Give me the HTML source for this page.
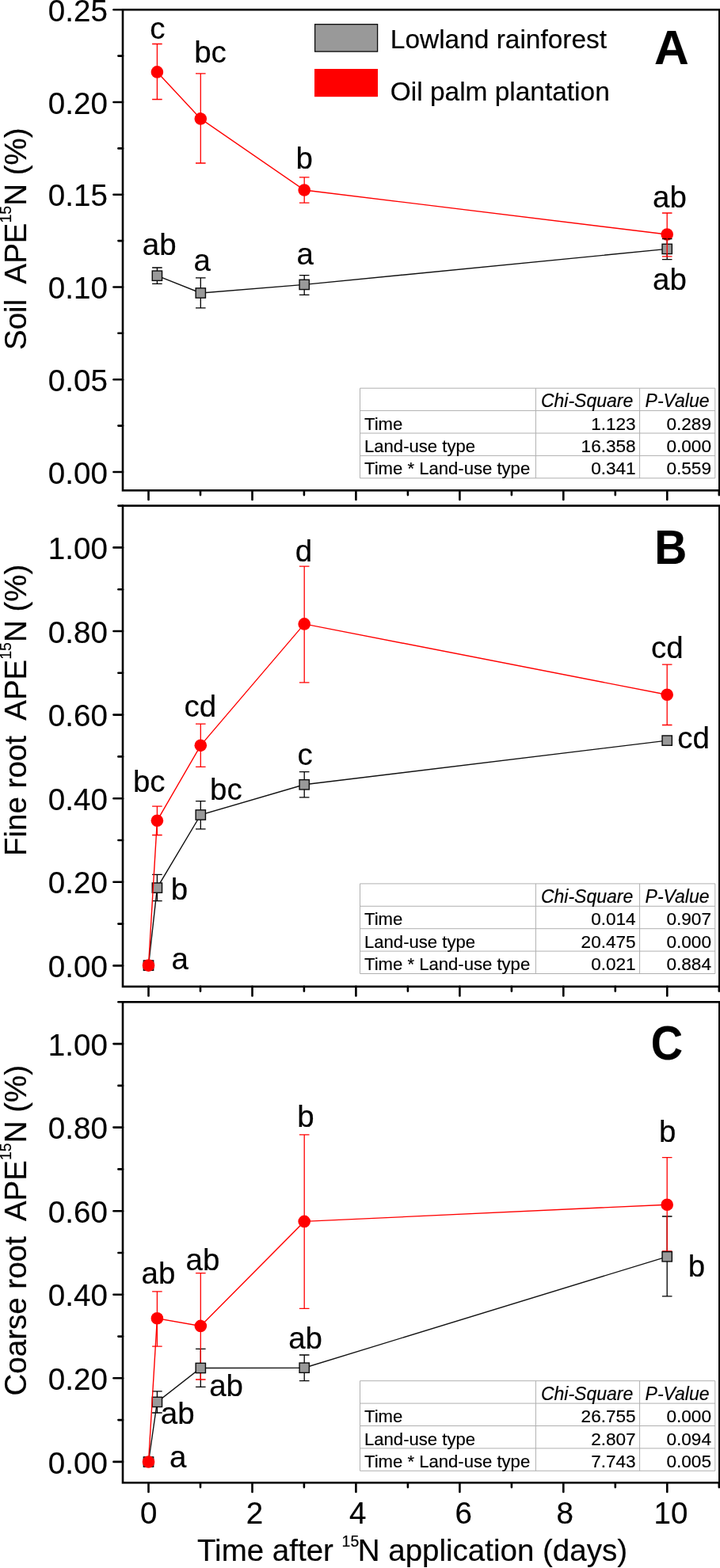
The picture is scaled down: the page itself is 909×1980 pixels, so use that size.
<!DOCTYPE html>
<html><head><meta charset="utf-8"><title>Figure</title>
<style>html,body{margin:0;padding:0;background:#fff}svg{display:block}text{font-family:"Liberation Sans",Arial,sans-serif;fill:#000;stroke:#000;stroke-width:0.18px}</style>
</head><body>
<svg width="909" height="1980" viewBox="0 0 909 1980">
<rect width="909" height="1980" fill="#fff"/>
<rect x="155.0" y="12.25" width="753.3" height="607.05" fill="none" stroke="#000" stroke-width="2.6" stroke-linecap="round"/>
<line x1="143.4" y1="596.0" x2="155.0" y2="596.0" stroke="#000" stroke-width="2.6" stroke-linecap="round"/>
<text x="135.8" y="610.6" text-anchor="end" font-size="38.5">0.00</text>
<line x1="143.4" y1="479.2" x2="155.0" y2="479.2" stroke="#000" stroke-width="2.6" stroke-linecap="round"/>
<text x="135.8" y="493.8" text-anchor="end" font-size="38.5">0.05</text>
<line x1="143.4" y1="362.5" x2="155.0" y2="362.5" stroke="#000" stroke-width="2.6" stroke-linecap="round"/>
<text x="135.8" y="377.1" text-anchor="end" font-size="38.5">0.10</text>
<line x1="143.4" y1="245.7" x2="155.0" y2="245.7" stroke="#000" stroke-width="2.6" stroke-linecap="round"/>
<text x="135.8" y="260.3" text-anchor="end" font-size="38.5">0.15</text>
<line x1="143.4" y1="129.0" x2="155.0" y2="129.0" stroke="#000" stroke-width="2.6" stroke-linecap="round"/>
<text x="135.8" y="143.6" text-anchor="end" font-size="38.5">0.20</text>
<line x1="143.4" y1="12.2" x2="155.0" y2="12.2" stroke="#000" stroke-width="2.6" stroke-linecap="round"/>
<text x="135.8" y="26.9" text-anchor="end" font-size="38.5">0.25</text>
<line x1="149.4" y1="537.6" x2="155.0" y2="537.6" stroke="#000" stroke-width="2.6" stroke-linecap="round"/>
<line x1="149.4" y1="420.8" x2="155.0" y2="420.8" stroke="#000" stroke-width="2.6" stroke-linecap="round"/>
<line x1="149.4" y1="304.1" x2="155.0" y2="304.1" stroke="#000" stroke-width="2.6" stroke-linecap="round"/>
<line x1="149.4" y1="187.4" x2="155.0" y2="187.4" stroke="#000" stroke-width="2.6" stroke-linecap="round"/>
<line x1="149.4" y1="70.6" x2="155.0" y2="70.6" stroke="#000" stroke-width="2.6" stroke-linecap="round"/>
<line x1="187.5" y1="619.3" x2="187.5" y2="630.9" stroke="#000" stroke-width="2.6" stroke-linecap="round"/>
<line x1="253.0" y1="619.3" x2="253.0" y2="625.0999999999999" stroke="#000" stroke-width="2.6" stroke-linecap="round"/>
<line x1="318.5" y1="619.3" x2="318.5" y2="630.9" stroke="#000" stroke-width="2.6" stroke-linecap="round"/>
<line x1="383.9" y1="619.3" x2="383.9" y2="625.0999999999999" stroke="#000" stroke-width="2.6" stroke-linecap="round"/>
<line x1="449.4" y1="619.3" x2="449.4" y2="630.9" stroke="#000" stroke-width="2.6" stroke-linecap="round"/>
<line x1="514.9" y1="619.3" x2="514.9" y2="625.0999999999999" stroke="#000" stroke-width="2.6" stroke-linecap="round"/>
<line x1="580.4" y1="619.3" x2="580.4" y2="630.9" stroke="#000" stroke-width="2.6" stroke-linecap="round"/>
<line x1="645.9" y1="619.3" x2="645.9" y2="625.0999999999999" stroke="#000" stroke-width="2.6" stroke-linecap="round"/>
<line x1="711.3" y1="619.3" x2="711.3" y2="630.9" stroke="#000" stroke-width="2.6" stroke-linecap="round"/>
<line x1="776.8" y1="619.3" x2="776.8" y2="625.0999999999999" stroke="#000" stroke-width="2.6" stroke-linecap="round"/>
<line x1="842.3" y1="619.3" x2="842.3" y2="630.9" stroke="#000" stroke-width="2.6" stroke-linecap="round"/>
<line x1="907.8" y1="619.3" x2="907.8" y2="625.0999999999999" stroke="#000" stroke-width="2.6" stroke-linecap="round"/>
<polyline points="198.4,90.9 253.3,149.9 384.2,240.0 842.2,296.0" fill="none" stroke="#ff0000" stroke-width="1.4"/>
<circle cx="198.4" cy="90.9" r="7.8" fill="#ff0000"/>
<circle cx="253.3" cy="149.9" r="7.8" fill="#ff0000"/>
<circle cx="384.2" cy="240.0" r="7.8" fill="#ff0000"/>
<circle cx="842.2" cy="296.0" r="7.8" fill="#ff0000"/>
<path d="M198.4 338.0V358.4M192.1 338.0h12.6M192.1 358.4h12.6" stroke="#000" stroke-width="1.3" fill="none"/>
<path d="M253.3 350.9V388.8M247.0 350.9h12.6M247.0 388.8h12.6" stroke="#000" stroke-width="1.3" fill="none"/>
<path d="M384.2 347.6V372.3M377.9 347.6h12.6M377.9 372.3h12.6" stroke="#000" stroke-width="1.3" fill="none"/>
<path d="M842.2 301.6V327.6M835.9 301.6h12.6M835.9 327.6h12.6" stroke="#000" stroke-width="1.3" fill="none"/>
<polyline points="198.4,348.2 253.3,370.0 384.2,359.4 842.2,314.4" fill="none" stroke="#111" stroke-width="1.4"/>
<rect x="192.25" y="342.05" width="12.3" height="12.3" fill="#999999" stroke="#0a0a0a" stroke-width="1.4"/>
<rect x="247.15" y="363.85" width="12.3" height="12.3" fill="#999999" stroke="#0a0a0a" stroke-width="1.4"/>
<rect x="378.05" y="353.25" width="12.3" height="12.3" fill="#999999" stroke="#0a0a0a" stroke-width="1.4"/>
<rect x="836.05" y="308.25" width="12.3" height="12.3" fill="#999999" stroke="#0a0a0a" stroke-width="1.4"/>
<path d="M198.4 55.5V125.5M192.1 55.5h12.6M192.1 125.5h12.6" stroke="#ff0000" stroke-width="1.3" fill="none"/>
<path d="M253.3 92.8V206.0M247.0 92.8h12.6M247.0 206.0h12.6" stroke="#ff0000" stroke-width="1.3" fill="none"/>
<path d="M384.2 223.9V256.2M377.9 223.9h12.6M377.9 256.2h12.6" stroke="#ff0000" stroke-width="1.3" fill="none"/>
<path d="M842.2 269.0V323.8M835.9 269.0h12.6M835.9 323.8h12.6" stroke="#ff0000" stroke-width="1.3" fill="none"/>
<text x="198.8" y="48.6" text-anchor="middle" font-size="38.5">c</text>
<text x="265.5" y="79.2" text-anchor="middle" font-size="38.5">bc</text>
<text x="384.2" y="213.4" text-anchor="middle" font-size="38.5">b</text>
<text x="845.5" y="261.6" text-anchor="middle" font-size="38.5">ab</text>
<text x="845.5" y="365.8" text-anchor="middle" font-size="38.5">ab</text>
<text x="201.2" y="321.7" text-anchor="middle" font-size="38.5">ab</text>
<text x="255.1" y="342.2" text-anchor="middle" font-size="38.5">a</text>
<text x="385.1" y="333.9" text-anchor="middle" font-size="38.5">a</text>
<rect x="397.6" y="30.7" width="79" height="34.4" fill="#999999" stroke="#0a0a0a" stroke-width="1.3"/>
<rect x="397" y="87" width="80" height="35.2" fill="#ff0000"/>
<text x="492.8" y="61" font-size="33.45">Lowland rainforest</text>
<text x="492.8" y="126.5" font-size="33.45">Oil palm plantation</text>
<text x="847.9" y="81" font-size="60.5" font-weight="bold" text-anchor="middle">A</text>
<line x1="454.5" y1="490.2" x2="902.8" y2="490.2" stroke="#b0b0b0" stroke-width="1"/>
<line x1="454.5" y1="518.6" x2="902.8" y2="518.6" stroke="#b0b0b0" stroke-width="1"/>
<line x1="454.5" y1="547.0" x2="902.8" y2="547.0" stroke="#b0b0b0" stroke-width="1"/>
<line x1="454.5" y1="575.4" x2="902.8" y2="575.4" stroke="#b0b0b0" stroke-width="1"/>
<line x1="454.5" y1="603.8" x2="902.8" y2="603.8" stroke="#b0b0b0" stroke-width="1"/>
<line x1="454.5" y1="490.2" x2="454.5" y2="603.8" stroke="#b0b0b0" stroke-width="1"/>
<line x1="676.4" y1="490.2" x2="676.4" y2="603.8" stroke="#b0b0b0" stroke-width="1"/>
<line x1="807.6" y1="490.2" x2="807.6" y2="603.8" stroke="#b0b0b0" stroke-width="1"/>
<line x1="902.8" y1="490.2" x2="902.8" y2="603.8" stroke="#b0b0b0" stroke-width="1"/>
<text x="682.9" y="514.4" font-size="23" font-style="italic">Chi-Square</text>
<text x="814.6" y="514.4" font-size="23" font-style="italic">P-Value</text>
<text x="460.0" y="542.6" font-size="22.1">Time</text>
<text x="802.7" y="542.6" font-size="22.6" text-anchor="end">1.123</text>
<text x="898.0" y="542.6" font-size="22.6" text-anchor="end">0.289</text>
<text x="460.0" y="571.0" font-size="22.1">Land-use type</text>
<text x="802.7" y="571.0" font-size="22.6" text-anchor="end">16.358</text>
<text x="898.0" y="571.0" font-size="22.6" text-anchor="end">0.000</text>
<text x="460.0" y="599.4" font-size="22.1">Time * Land-use type</text>
<text x="802.7" y="599.4" font-size="22.6" text-anchor="end">0.341</text>
<text x="898.0" y="599.4" font-size="22.6" text-anchor="end">0.559</text>
<text transform="translate(33,442) rotate(-90)" font-size="38.5">Soil&#160; APE<tspan font-size="19.5" dy="-19">15</tspan><tspan dy="19">N (%)</tspan></text>
<rect x="155.0" y="638.6" width="753.3" height="607.1999999999999" fill="none" stroke="#000" stroke-width="2.6" stroke-linecap="round"/>
<line x1="143.4" y1="1219.4" x2="155.0" y2="1219.4" stroke="#000" stroke-width="2.6" stroke-linecap="round"/>
<text x="135.8" y="1234.0" text-anchor="end" font-size="38.5">0.00</text>
<line x1="143.4" y1="1113.8" x2="155.0" y2="1113.8" stroke="#000" stroke-width="2.6" stroke-linecap="round"/>
<text x="135.8" y="1128.4" text-anchor="end" font-size="38.5">0.20</text>
<line x1="143.4" y1="1008.2" x2="155.0" y2="1008.2" stroke="#000" stroke-width="2.6" stroke-linecap="round"/>
<text x="135.8" y="1022.8" text-anchor="end" font-size="38.5">0.40</text>
<line x1="143.4" y1="902.6" x2="155.0" y2="902.6" stroke="#000" stroke-width="2.6" stroke-linecap="round"/>
<text x="135.8" y="917.2" text-anchor="end" font-size="38.5">0.60</text>
<line x1="143.4" y1="797.0" x2="155.0" y2="797.0" stroke="#000" stroke-width="2.6" stroke-linecap="round"/>
<text x="135.8" y="811.6" text-anchor="end" font-size="38.5">0.80</text>
<line x1="143.4" y1="691.4" x2="155.0" y2="691.4" stroke="#000" stroke-width="2.6" stroke-linecap="round"/>
<text x="135.8" y="706.0" text-anchor="end" font-size="38.5">1.00</text>
<line x1="149.4" y1="1166.6" x2="155.0" y2="1166.6" stroke="#000" stroke-width="2.6" stroke-linecap="round"/>
<line x1="149.4" y1="1061.0" x2="155.0" y2="1061.0" stroke="#000" stroke-width="2.6" stroke-linecap="round"/>
<line x1="149.4" y1="955.4" x2="155.0" y2="955.4" stroke="#000" stroke-width="2.6" stroke-linecap="round"/>
<line x1="149.4" y1="849.8" x2="155.0" y2="849.8" stroke="#000" stroke-width="2.6" stroke-linecap="round"/>
<line x1="149.4" y1="744.2" x2="155.0" y2="744.2" stroke="#000" stroke-width="2.6" stroke-linecap="round"/>
<line x1="149.4" y1="638.6" x2="155.0" y2="638.6" stroke="#000" stroke-width="2.6" stroke-linecap="round"/>
<line x1="187.5" y1="1245.8" x2="187.5" y2="1257.3999999999999" stroke="#000" stroke-width="2.6" stroke-linecap="round"/>
<line x1="253.0" y1="1245.8" x2="253.0" y2="1251.6" stroke="#000" stroke-width="2.6" stroke-linecap="round"/>
<line x1="318.5" y1="1245.8" x2="318.5" y2="1257.3999999999999" stroke="#000" stroke-width="2.6" stroke-linecap="round"/>
<line x1="383.9" y1="1245.8" x2="383.9" y2="1251.6" stroke="#000" stroke-width="2.6" stroke-linecap="round"/>
<line x1="449.4" y1="1245.8" x2="449.4" y2="1257.3999999999999" stroke="#000" stroke-width="2.6" stroke-linecap="round"/>
<line x1="514.9" y1="1245.8" x2="514.9" y2="1251.6" stroke="#000" stroke-width="2.6" stroke-linecap="round"/>
<line x1="580.4" y1="1245.8" x2="580.4" y2="1257.3999999999999" stroke="#000" stroke-width="2.6" stroke-linecap="round"/>
<line x1="645.9" y1="1245.8" x2="645.9" y2="1251.6" stroke="#000" stroke-width="2.6" stroke-linecap="round"/>
<line x1="711.3" y1="1245.8" x2="711.3" y2="1257.3999999999999" stroke="#000" stroke-width="2.6" stroke-linecap="round"/>
<line x1="776.8" y1="1245.8" x2="776.8" y2="1251.6" stroke="#000" stroke-width="2.6" stroke-linecap="round"/>
<line x1="842.3" y1="1245.8" x2="842.3" y2="1257.3999999999999" stroke="#000" stroke-width="2.6" stroke-linecap="round"/>
<line x1="907.8" y1="1245.8" x2="907.8" y2="1251.6" stroke="#000" stroke-width="2.6" stroke-linecap="round"/>
<path d="M198.4 1104.3V1137.6M192.1 1104.3h12.6M192.1 1137.6h12.6" stroke="#000" stroke-width="1.3" fill="none"/>
<path d="M253.3 1011.6V1046.9M247.0 1011.6h12.6M247.0 1046.9h12.6" stroke="#000" stroke-width="1.3" fill="none"/>
<path d="M384.2 974.6V1006.9M377.9 974.6h12.6M377.9 1006.9h12.6" stroke="#000" stroke-width="1.3" fill="none"/>
<path d="M198.4 1018.2V1054.5M192.1 1018.2h12.6M192.1 1054.5h12.6" stroke="#ff0000" stroke-width="1.3" fill="none"/>
<path d="M253.3 914.2V968.3M247.0 914.2h12.6M247.0 968.3h12.6" stroke="#ff0000" stroke-width="1.3" fill="none"/>
<path d="M384.2 715.2V861.8M377.9 715.2h12.6M377.9 861.8h12.6" stroke="#ff0000" stroke-width="1.3" fill="none"/>
<path d="M842.2 839.1V915.5M835.9 839.1h12.6M835.9 915.5h12.6" stroke="#ff0000" stroke-width="1.3" fill="none"/>
<polyline points="187.5,1219.1 198.4,1121.1 253.3,1029.0 384.2,990.8 842.2,935.1" fill="none" stroke="#111" stroke-width="1.4"/>
<rect x="181.35" y="1212.95" width="12.3" height="12.3" fill="#999999" stroke="#0a0a0a" stroke-width="1.4"/>
<rect x="192.25" y="1114.95" width="12.3" height="12.3" fill="#999999" stroke="#0a0a0a" stroke-width="1.4"/>
<rect x="247.15" y="1022.85" width="12.3" height="12.3" fill="#999999" stroke="#0a0a0a" stroke-width="1.4"/>
<rect x="378.05" y="984.65" width="12.3" height="12.3" fill="#999999" stroke="#0a0a0a" stroke-width="1.4"/>
<rect x="836.05" y="928.95" width="12.3" height="12.3" fill="#999999" stroke="#0a0a0a" stroke-width="1.4"/>
<polyline points="187.5,1219.1 198.4,1036.3 253.3,941.3 384.2,787.9 842.2,877.3" fill="none" stroke="#ff0000" stroke-width="1.4"/>
<circle cx="187.5" cy="1219.1" r="7.8" fill="#ff0000"/>
<circle cx="198.4" cy="1036.3" r="7.8" fill="#ff0000"/>
<circle cx="253.3" cy="941.3" r="7.8" fill="#ff0000"/>
<circle cx="384.2" cy="787.9" r="7.8" fill="#ff0000"/>
<circle cx="842.2" cy="877.3" r="7.8" fill="#ff0000"/>
<text x="383.5" y="708.9" text-anchor="middle" font-size="38.5">d</text>
<text x="252.8" y="905.2" text-anchor="middle" font-size="38.5">cd</text>
<text x="188.3" y="999.5" text-anchor="middle" font-size="38.5">bc</text>
<text x="285.4" y="1009.5" text-anchor="middle" font-size="38.5">bc</text>
<text x="385.1" y="965.6" text-anchor="middle" font-size="38.5">c</text>
<text x="226.4" y="1136.2" text-anchor="middle" font-size="38.5">b</text>
<text x="227.1" y="1224.0" text-anchor="middle" font-size="38.5">a</text>
<text x="842.3" y="831.2" text-anchor="middle" font-size="38.5">cd</text>
<text x="875.5" y="944.8" text-anchor="middle" font-size="38.5">cd</text>
<text x="846.7" y="711.5" font-size="60.5" font-weight="bold" text-anchor="middle" textLength="41" lengthAdjust="spacingAndGlyphs">B</text>
<line x1="454.5" y1="1115.9" x2="902.8" y2="1115.9" stroke="#b0b0b0" stroke-width="1"/>
<line x1="454.5" y1="1144.3" x2="902.8" y2="1144.3" stroke="#b0b0b0" stroke-width="1"/>
<line x1="454.5" y1="1172.7" x2="902.8" y2="1172.7" stroke="#b0b0b0" stroke-width="1"/>
<line x1="454.5" y1="1201.1" x2="902.8" y2="1201.1" stroke="#b0b0b0" stroke-width="1"/>
<line x1="454.5" y1="1229.5" x2="902.8" y2="1229.5" stroke="#b0b0b0" stroke-width="1"/>
<line x1="454.5" y1="1115.9" x2="454.5" y2="1229.5" stroke="#b0b0b0" stroke-width="1"/>
<line x1="676.4" y1="1115.9" x2="676.4" y2="1229.5" stroke="#b0b0b0" stroke-width="1"/>
<line x1="807.6" y1="1115.9" x2="807.6" y2="1229.5" stroke="#b0b0b0" stroke-width="1"/>
<line x1="902.8" y1="1115.9" x2="902.8" y2="1229.5" stroke="#b0b0b0" stroke-width="1"/>
<text x="682.9" y="1140.1" font-size="23" font-style="italic">Chi-Square</text>
<text x="814.6" y="1140.1" font-size="23" font-style="italic">P-Value</text>
<text x="460.0" y="1168.3" font-size="22.1">Time</text>
<text x="802.7" y="1168.3" font-size="22.6" text-anchor="end">0.014</text>
<text x="898.0" y="1168.3" font-size="22.6" text-anchor="end">0.907</text>
<text x="460.0" y="1196.7" font-size="22.1">Land-use type</text>
<text x="802.7" y="1196.7" font-size="22.6" text-anchor="end">20.475</text>
<text x="898.0" y="1196.7" font-size="22.6" text-anchor="end">0.000</text>
<text x="460.0" y="1225.1" font-size="22.1">Time * Land-use type</text>
<text x="802.7" y="1225.1" font-size="22.6" text-anchor="end">0.021</text>
<text x="898.0" y="1225.1" font-size="22.6" text-anchor="end">0.884</text>
<text transform="translate(33,1081) rotate(-90)" font-size="38.5">Fine root&#160; APE<tspan font-size="19.5" dy="-19">15</tspan><tspan dy="19">N (%)</tspan></text>
<rect x="155.0" y="1265.3" width="753.3" height="607.0" fill="none" stroke="#000" stroke-width="2.6" stroke-linecap="round"/>
<line x1="143.4" y1="1845.9" x2="155.0" y2="1845.9" stroke="#000" stroke-width="2.6" stroke-linecap="round"/>
<text x="135.8" y="1860.5" text-anchor="end" font-size="38.5">0.00</text>
<line x1="143.4" y1="1740.3" x2="155.0" y2="1740.3" stroke="#000" stroke-width="2.6" stroke-linecap="round"/>
<text x="135.8" y="1754.9" text-anchor="end" font-size="38.5">0.20</text>
<line x1="143.4" y1="1634.8" x2="155.0" y2="1634.8" stroke="#000" stroke-width="2.6" stroke-linecap="round"/>
<text x="135.8" y="1649.4" text-anchor="end" font-size="38.5">0.40</text>
<line x1="143.4" y1="1529.2" x2="155.0" y2="1529.2" stroke="#000" stroke-width="2.6" stroke-linecap="round"/>
<text x="135.8" y="1543.8" text-anchor="end" font-size="38.5">0.60</text>
<line x1="143.4" y1="1423.6" x2="155.0" y2="1423.6" stroke="#000" stroke-width="2.6" stroke-linecap="round"/>
<text x="135.8" y="1438.2" text-anchor="end" font-size="38.5">0.80</text>
<line x1="143.4" y1="1318.1" x2="155.0" y2="1318.1" stroke="#000" stroke-width="2.6" stroke-linecap="round"/>
<text x="135.8" y="1332.7" text-anchor="end" font-size="38.5">1.00</text>
<line x1="149.4" y1="1793.1" x2="155.0" y2="1793.1" stroke="#000" stroke-width="2.6" stroke-linecap="round"/>
<line x1="149.4" y1="1687.6" x2="155.0" y2="1687.6" stroke="#000" stroke-width="2.6" stroke-linecap="round"/>
<line x1="149.4" y1="1582.0" x2="155.0" y2="1582.0" stroke="#000" stroke-width="2.6" stroke-linecap="round"/>
<line x1="149.4" y1="1476.4" x2="155.0" y2="1476.4" stroke="#000" stroke-width="2.6" stroke-linecap="round"/>
<line x1="149.4" y1="1370.9" x2="155.0" y2="1370.9" stroke="#000" stroke-width="2.6" stroke-linecap="round"/>
<line x1="149.4" y1="1265.3" x2="155.0" y2="1265.3" stroke="#000" stroke-width="2.6" stroke-linecap="round"/>
<line x1="187.5" y1="1872.3" x2="187.5" y2="1883.8999999999999" stroke="#000" stroke-width="2.6" stroke-linecap="round"/>
<text x="187.8" y="1923.5" text-anchor="middle" font-size="38.5">0</text>
<line x1="253.0" y1="1872.3" x2="253.0" y2="1878.1" stroke="#000" stroke-width="2.6" stroke-linecap="round"/>
<line x1="318.5" y1="1872.3" x2="318.5" y2="1883.8999999999999" stroke="#000" stroke-width="2.6" stroke-linecap="round"/>
<text x="321.4" y="1923.5" text-anchor="middle" font-size="38.5">2</text>
<line x1="383.9" y1="1872.3" x2="383.9" y2="1878.1" stroke="#000" stroke-width="2.6" stroke-linecap="round"/>
<line x1="449.4" y1="1872.3" x2="449.4" y2="1883.8999999999999" stroke="#000" stroke-width="2.6" stroke-linecap="round"/>
<text x="451.8" y="1923.5" text-anchor="middle" font-size="38.5">4</text>
<line x1="514.9" y1="1872.3" x2="514.9" y2="1878.1" stroke="#000" stroke-width="2.6" stroke-linecap="round"/>
<line x1="580.4" y1="1872.3" x2="580.4" y2="1883.8999999999999" stroke="#000" stroke-width="2.6" stroke-linecap="round"/>
<text x="585.2" y="1923.5" text-anchor="middle" font-size="38.5">6</text>
<line x1="645.9" y1="1872.3" x2="645.9" y2="1878.1" stroke="#000" stroke-width="2.6" stroke-linecap="round"/>
<line x1="711.3" y1="1872.3" x2="711.3" y2="1883.8999999999999" stroke="#000" stroke-width="2.6" stroke-linecap="round"/>
<text x="713.1" y="1923.5" text-anchor="middle" font-size="38.5">8</text>
<line x1="776.8" y1="1872.3" x2="776.8" y2="1878.1" stroke="#000" stroke-width="2.6" stroke-linecap="round"/>
<line x1="842.3" y1="1872.3" x2="842.3" y2="1883.8999999999999" stroke="#000" stroke-width="2.6" stroke-linecap="round"/>
<text x="847.0" y="1923.5" text-anchor="middle" font-size="38.5">10</text>
<line x1="907.8" y1="1872.3" x2="907.8" y2="1878.1" stroke="#000" stroke-width="2.6" stroke-linecap="round"/>
<path d="M198.4 1756.9V1784.0M192.1 1756.9h12.6M192.1 1784.0h12.6" stroke="#000" stroke-width="1.3" fill="none"/>
<path d="M253.3 1703.4V1751.3M247.0 1703.4h12.6M247.0 1751.3h12.6" stroke="#000" stroke-width="1.3" fill="none"/>
<path d="M384.2 1711.0V1743.7M377.9 1711.0h12.6M377.9 1743.7h12.6" stroke="#000" stroke-width="1.3" fill="none"/>
<path d="M842.2 1536.0V1636.9M835.9 1536.0h12.6M835.9 1636.9h12.6" stroke="#000" stroke-width="1.3" fill="none"/>
<path d="M198.4 1630.8V1700.1M192.1 1630.8h12.6M192.1 1700.1h12.6" stroke="#ff0000" stroke-width="1.3" fill="none"/>
<path d="M253.3 1607.7V1742.0M247.0 1607.7h12.6M247.0 1742.0h12.6" stroke="#ff0000" stroke-width="1.3" fill="none"/>
<path d="M384.2 1432.8V1652.3M377.9 1432.8h12.6M377.9 1652.3h12.6" stroke="#ff0000" stroke-width="1.3" fill="none"/>
<path d="M842.2 1461.7V1580.0M835.9 1461.7h12.6M835.9 1580.0h12.6" stroke="#ff0000" stroke-width="1.3" fill="none"/>
<polyline points="187.5,1846.0 198.4,1770.4 253.3,1727.5 384.2,1727.2 842.2,1586.8" fill="none" stroke="#111" stroke-width="1.4"/>
<rect x="181.35" y="1839.85" width="12.3" height="12.3" fill="#999999" stroke="#0a0a0a" stroke-width="1.4"/>
<rect x="192.25" y="1764.25" width="12.3" height="12.3" fill="#999999" stroke="#0a0a0a" stroke-width="1.4"/>
<rect x="247.15" y="1721.35" width="12.3" height="12.3" fill="#999999" stroke="#0a0a0a" stroke-width="1.4"/>
<rect x="378.05" y="1721.05" width="12.3" height="12.3" fill="#999999" stroke="#0a0a0a" stroke-width="1.4"/>
<rect x="836.05" y="1580.65" width="12.3" height="12.3" fill="#999999" stroke="#0a0a0a" stroke-width="1.4"/>
<polyline points="187.5,1846.0 198.4,1664.8 253.3,1674.4 384.2,1542.4 842.2,1521.2" fill="none" stroke="#ff0000" stroke-width="1.4"/>
<circle cx="187.5" cy="1846.0" r="7.8" fill="#ff0000"/>
<circle cx="198.4" cy="1664.8" r="7.8" fill="#ff0000"/>
<circle cx="253.3" cy="1674.4" r="7.8" fill="#ff0000"/>
<circle cx="384.2" cy="1542.4" r="7.8" fill="#ff0000"/>
<circle cx="842.2" cy="1521.2" r="7.8" fill="#ff0000"/>
<text x="385.9" y="1422.5" text-anchor="middle" font-size="38.5">b</text>
<text x="200.0" y="1621.2" text-anchor="middle" font-size="38.5">ab</text>
<text x="255.9" y="1604.0" text-anchor="middle" font-size="38.5">ab</text>
<text x="385.6" y="1703.0" text-anchor="middle" font-size="38.5">ab</text>
<text x="285.6" y="1763.0" text-anchor="middle" font-size="38.5">ab</text>
<text x="224.2" y="1798.0" text-anchor="middle" font-size="38.5">ab</text>
<text x="224.8" y="1853.2" text-anchor="middle" font-size="38.5">a</text>
<text x="842.6" y="1441.6" text-anchor="middle" font-size="38.5">b</text>
<text x="879.5" y="1612.1" text-anchor="middle" font-size="38.5">b</text>
<text x="842" y="1338" font-size="60.5" font-weight="bold" text-anchor="middle" textLength="40.3" lengthAdjust="spacingAndGlyphs">C</text>
<line x1="454.5" y1="1743.7" x2="902.8" y2="1743.7" stroke="#b0b0b0" stroke-width="1"/>
<line x1="454.5" y1="1772.1" x2="902.8" y2="1772.1" stroke="#b0b0b0" stroke-width="1"/>
<line x1="454.5" y1="1800.5" x2="902.8" y2="1800.5" stroke="#b0b0b0" stroke-width="1"/>
<line x1="454.5" y1="1828.9" x2="902.8" y2="1828.9" stroke="#b0b0b0" stroke-width="1"/>
<line x1="454.5" y1="1857.3" x2="902.8" y2="1857.3" stroke="#b0b0b0" stroke-width="1"/>
<line x1="454.5" y1="1743.7" x2="454.5" y2="1857.3" stroke="#b0b0b0" stroke-width="1"/>
<line x1="676.4" y1="1743.7" x2="676.4" y2="1857.3" stroke="#b0b0b0" stroke-width="1"/>
<line x1="807.6" y1="1743.7" x2="807.6" y2="1857.3" stroke="#b0b0b0" stroke-width="1"/>
<line x1="902.8" y1="1743.7" x2="902.8" y2="1857.3" stroke="#b0b0b0" stroke-width="1"/>
<text x="682.9" y="1767.9" font-size="23" font-style="italic">Chi-Square</text>
<text x="814.6" y="1767.9" font-size="23" font-style="italic">P-Value</text>
<text x="460.0" y="1796.1" font-size="22.1">Time</text>
<text x="802.7" y="1796.1" font-size="22.6" text-anchor="end">26.755</text>
<text x="898.0" y="1796.1" font-size="22.6" text-anchor="end">0.000</text>
<text x="460.0" y="1824.5" font-size="22.1">Land-use type</text>
<text x="802.7" y="1824.5" font-size="22.6" text-anchor="end">2.807</text>
<text x="898.0" y="1824.5" font-size="22.6" text-anchor="end">0.094</text>
<text x="460.0" y="1852.9" font-size="22.1">Time * Land-use type</text>
<text x="802.7" y="1852.9" font-size="22.6" text-anchor="end">7.743</text>
<text x="898.0" y="1852.9" font-size="22.6" text-anchor="end">0.005</text>
<text transform="translate(33,1762.5) rotate(-90)" font-size="38.5">Coarse root&#160; APE<tspan font-size="19.5" dy="-19">15</tspan><tspan dy="19">N (%)</tspan></text>
<text x="249" y="1970.8" font-size="38.5">Time after <tspan font-size="19.5" dy="-17.8">15</tspan><tspan dy="17.8" dx="-1.5">N application (days)</tspan></text>
</svg>
</body></html>
